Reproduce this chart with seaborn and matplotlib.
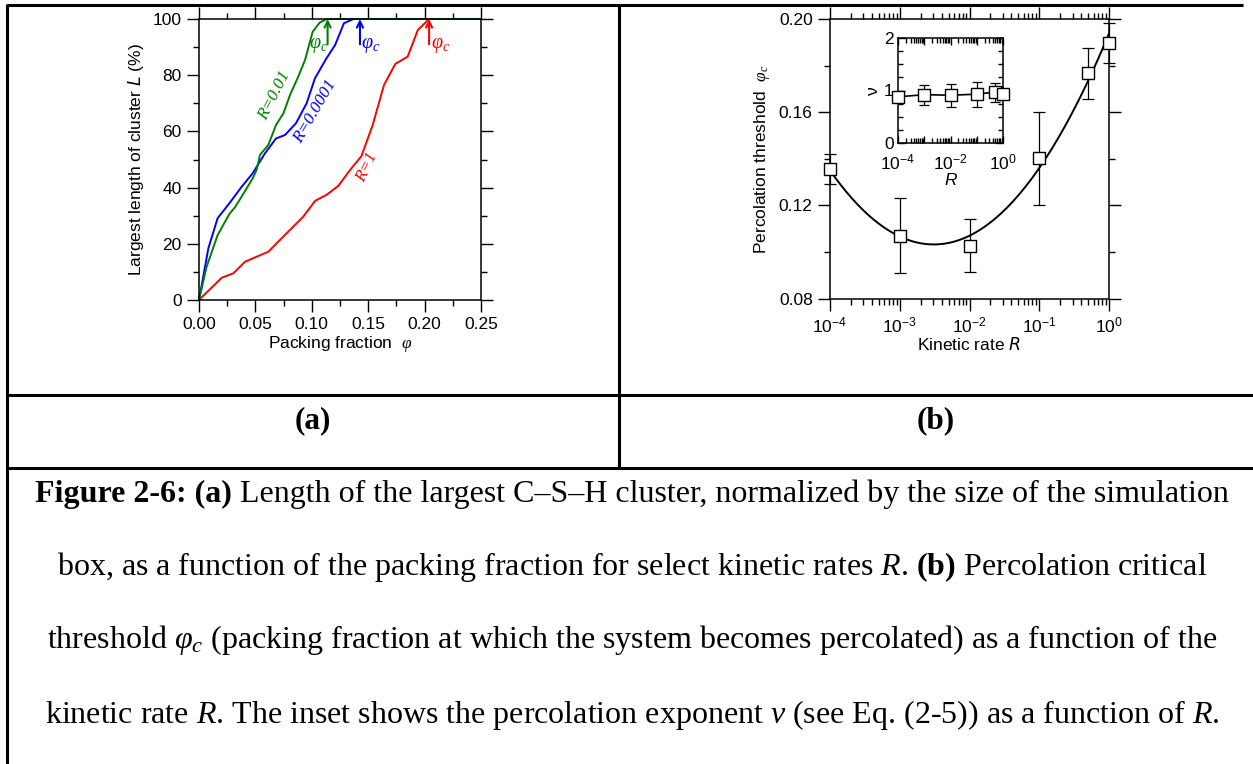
import numpy as np
import pandas as pd
import matplotlib
matplotlib.use("Agg")
import matplotlib.pyplot as plt
import seaborn as sns
from matplotlib.lines import Line2D
from matplotlib.ticker import MultipleLocator, FixedLocator, FormatStrFormatter, LogLocator, NullFormatter

# ---- data ----
# (a) largest cluster length vs packing fraction
phi_r0001 = [0, 0.0083, 0.0165, 0.0269, 0.0378, 0.0476, 0.0585, 0.0683, 0.0762, 0.086,
             0.0954, 0.1028, 0.113, 0.1206, 0.1285, 0.137, 0.25]
L_r0001 = [0, 18.4, 29.1, 34.4, 40.3, 45.1, 52.2, 57.5, 58.7, 62.9,
           70.0, 78.9, 86.0, 90.7, 98.5, 100, 100]
phi_r001 = [0, 0.0068, 0.0165, 0.0269, 0.0319, 0.0378, 0.0476, 0.0511, 0.054, 0.0615,
            0.0683, 0.0748, 0.0807, 0.088, 0.094, 0.1008, 0.107, 0.113, 0.25]
L_r001 = [0, 11.9, 23.1, 30.6, 33.0, 36.8, 43.3, 46.3, 51.6, 55.2,
          62.3, 66.4, 73.0, 79.5, 85.4, 95.5, 98.7, 100, 100]
phi_r1 = [0, 0.0201, 0.0304, 0.0408, 0.0615, 0.0718, 0.0925, 0.103, 0.113, 0.1235,
          0.134, 0.144, 0.154, 0.164, 0.174, 0.185, 0.194, 0.204, 0.25]
L_r1 = [0, 7.9, 9.5, 13.6, 17.2, 21.4, 29.7, 35.3, 37.4, 40.6,
        46.3, 51.2, 62.3, 76.5, 84.0, 86.6, 96.1, 100, 100]
phi_c_marks = {"R=0.01": 0.114, "R=0.0001": 0.1427, "R=1": 0.204}

# (b) percolation threshold vs kinetic rate
R_vals = [1e-4, 1e-3, 1e-2, 1e-1, 0.5, 1.0]
phi_c = [0.1356, 0.107, 0.1026, 0.1402, 0.1767, 0.1896]
phi_c_err = [0.0065, 0.016, 0.0114, 0.02, 0.011, 0.0085]
# inset: percolation exponent nu
nu = [0.88, 0.92, 0.91, 0.93, 0.97, 0.94]
nu_err = [0.12, 0.19, 0.22, 0.24, 0.18, 0.12]

GREEN, BLUE, RED = "#008000", "#0000ff", "#ff0000"

sns.set_style("ticks")
plt.rcParams["font.family"] = ["Liberation Sans", "DejaVu Sans"]
plt.rcParams["mathtext.fontset"] = "custom"
plt.rcParams["mathtext.rm"] = "Liberation Serif"
plt.rcParams["mathtext.it"] = "Liberation Serif:italic"
plt.rcParams["mathtext.bf"] = "Liberation Serif:bold"
plt.rcParams["axes.linewidth"] = 1.1
plt.rcParams["axes.edgecolor"] = "black"
for k in ["text.color", "axes.labelcolor", "xtick.color", "ytick.color"]:
    plt.rcParams[k] = "black"

W, H = 1253, 764
fig = plt.figure(figsize=(W / 100, H / 100), dpi=100)
fig.patch.set_facecolor("white")

TICK_FS = 12.5
LAB_FS = 12.5


def px_rect(l, t, r, b):
    return [l / W, 1 - b / H, (r - l) / W, (b - t) / H]


def style_ticks(ax, direction, maj, mino, size):
    ax.tick_params(which="both", direction=direction, top=True, right=True,
                   width=1.0, colors="black", labelsize=size, pad=4)
    ax.tick_params(which="major", length=maj)
    ax.tick_params(which="minor", length=mino)


# ---------------- panel (a) ----------------
ax_a = fig.add_axes(px_rect(199, 19, 481, 300))
for phi, L, col in [(phi_r1, L_r1, RED), (phi_r0001, L_r0001, BLUE), (phi_r001, L_r001, GREEN)]:
    sns.lineplot(x=phi, y=L, color=col, lw=1.4, estimator=None, sort=False,
                 ax=ax_a, clip_on=False)
ax_a.set_xlim(0, 0.25)
ax_a.set_ylim(0, 100)
ax_a.xaxis.set_major_locator(MultipleLocator(0.05))
ax_a.xaxis.set_minor_locator(MultipleLocator(0.025))
ax_a.xaxis.set_major_formatter(FormatStrFormatter("%.2f"))
ax_a.yaxis.set_major_locator(MultipleLocator(20))
ax_a.yaxis.set_minor_locator(MultipleLocator(10))
style_ticks(ax_a, "out", 8.5, 4.3, TICK_FS)
ax_a.set_xlabel(r"Packing fraction  $\varphi$", fontsize=LAB_FS, labelpad=1)
ax_a.set_ylabel(r"Largest length of cluster $L$ (%)", fontsize=LAB_FS, labelpad=5,
                math_fontfamily="dejavusans")

for (name, xc), col, dx in zip(phi_c_marks.items(), [GREEN, BLUE, RED], [-0.0082, 0.0095, 0.0102]):
    ax_a.annotate("", xy=(xc, 100), xytext=(xc, 91),
                  arrowprops=dict(arrowstyle="->,head_length=0.45,head_width=0.22",
                                  color=col, lw=1.5, shrinkA=0, shrinkB=0))
    ax_a.text(xc + dx, 90.6, r"$\varphi_c$", color=col, fontsize=14.5, ha="center", va="center")

for txt, x, y, rot, col in [("R=0.01", 0.0674, 72.9, 63, GREEN),
                            ("R=0.0001", 0.1034, 67.0, 60, BLUE),
                            ("R=1", 0.1486, 47.4, 65, RED)]:
    ax_a.text(x, y, txt, color=col, rotation=rot, rotation_mode="anchor",
              ha="center", va="center", fontsize=12.5, family="Liberation Serif", style="italic")

# ---------------- panel (b) ----------------
ax_b = fig.add_axes(px_rect(830, 19, 1109, 298.5))
ax_b.set_xscale("log")
coef = np.polyfit(np.log10(R_vals), phi_c, 2)
R_fit = np.logspace(-4, 0, 200)
fit_df = pd.DataFrame({"R": R_fit, "phi": np.polyval(coef, np.log10(R_fit))})
sns.lineplot(data=fit_df, x="R", y="phi", color="black", lw=1.4, ax=ax_b)
eb = ax_b.errorbar(R_vals, phi_c, yerr=phi_c_err, fmt="none", ecolor="black",
                   elinewidth=0.9, capsize=4.6, capthick=0.9, zorder=3)
for art in list(eb.lines[1]) + list(eb.lines[2]):
    art.set_clip_on(False)
sns.scatterplot(x=R_vals, y=phi_c, marker="s", s=70, color="white", edgecolor="black",
                linewidth=1.0, zorder=5, clip_on=False, legend=False, ax=ax_b)
ax_b.set_xlim(1e-4, 1)
ax_b.set_ylim(0.08, 0.20)
ax_b.xaxis.set_major_locator(FixedLocator([1e-4, 1e-3, 1e-2, 1e-1, 1]))
ax_b.set_xticklabels([r"$\mathdefault{10^{-4}}$", r"$\mathdefault{10^{-3}}$",
                      r"$\mathdefault{10^{-2}}$", r"$\mathdefault{10^{-1}}$",
                      r"$\mathdefault{10^{0}}$"])
ax_b.xaxis.set_minor_locator(LogLocator(base=10, subs=np.arange(2, 10), numticks=20))
ax_b.xaxis.set_minor_formatter(NullFormatter())
ax_b.yaxis.set_major_locator(MultipleLocator(0.04))
ax_b.yaxis.set_minor_locator(MultipleLocator(0.02))
ax_b.yaxis.set_major_formatter(FormatStrFormatter("%.2f"))
style_ticks(ax_b, "out", 8.5, 4.3, TICK_FS)
ax_b.set_xlabel(r"Kinetic rate $R$", fontsize=LAB_FS, labelpad=0, math_fontfamily="dejavusans")
ax_b.set_ylabel(r"Percolation threshold  $\varphi_c$", fontsize=LAB_FS, labelpad=5)

# inset
ax_in = fig.add_axes(px_rect(898, 38, 1003, 143))
ax_in.set_xscale("log")
sns.lineplot(x=R_vals, y=nu, color="black", lw=1.2, estimator=None, ax=ax_in)
eb2 = ax_in.errorbar(R_vals, nu, yerr=nu_err, fmt="none", ecolor="black",
                     elinewidth=0.9, capsize=3.8, capthick=0.9, zorder=3)
sns.scatterplot(x=R_vals, y=nu, marker="s", s=64, color="white", edgecolor="black",
                linewidth=1.0, zorder=5, clip_on=False, legend=False, ax=ax_in)
ax_in.set_xlim(1e-4, 1)
ax_in.set_ylim(0, 2)
ax_in.xaxis.set_major_locator(FixedLocator([1e-4, 1e-3, 1e-2, 1e-1, 1]))
ax_in.set_xticklabels([r"$\mathdefault{10^{-4}}$", "", r"$\mathdefault{10^{-2}}$", "",
                       r"$\mathdefault{10^{0}}$"])
ax_in.xaxis.set_minor_locator(LogLocator(base=10, subs=np.arange(2, 10), numticks=20))
ax_in.xaxis.set_minor_formatter(NullFormatter())
ax_in.yaxis.set_major_locator(MultipleLocator(1))
ax_in.yaxis.set_minor_locator(MultipleLocator(0.25))
style_ticks(ax_in, "in", 5, 3.5, TICK_FS)
ax_in.tick_params(axis="y", pad=3)
ax_in.tick_params(axis="x", pad=7)
ax_in.set_ylabel("ν", fontsize=LAB_FS, labelpad=2)
ax_in.set_xlabel("R", fontsize=LAB_FS, style="italic", labelpad=0)

# ---------------- table borders ----------------
def line_px(xs, ys, lw=2.2):
    fig.add_artist(Line2D([x / W for x in xs], [1 - y / H for y in ys],
                          transform=fig.transFigure, color="black", lw=lw,
                          solid_capstyle="butt"))


line_px([7, 1243], [5, 5])
line_px([7, 7], [4, 764])
line_px([619, 619], [5, 468])
line_px([7, 1253], [395, 395])
line_px([7, 1253], [468, 468])

# ---------------- captions ----------------
serif = "Liberation Serif"
cap_size = 23
fig.text(313 / W, 1 - 421 / H, "(a)", family=serif, weight="bold", fontsize=22.5,
         ha="center", va="center")
fig.text(936 / W, 1 - 421 / H, "(b)", family=serif, weight="bold", fontsize=22.5,
         ha="center", va="center")

cx = 632
t_bold = fig.text(0, 1 - 502 / H, "Figure 2-6: (a)", family=serif, weight="bold",
                  fontsize=cap_size, ha="left", va="baseline")
t_rest = fig.text(0, 1 - 502 / H,
                  "Length of the largest C\u2013S\u2013H cluster, normalized by the size of the simulation",
                  family=serif, fontsize=cap_size, ha="left", va="baseline")
renderer = fig.canvas.get_renderer()
tmp1 = fig.text(0, 0, "a a", family=serif, fontsize=cap_size)
tmp2 = fig.text(0, 0, "aa", family=serif, fontsize=cap_size)
sp = tmp1.get_window_extent(renderer).width - tmp2.get_window_extent(renderer).width
tmp1.remove()
tmp2.remove()
w1 = t_bold.get_window_extent(renderer).width
w2 = t_rest.get_window_extent(renderer).width
x0 = cx - (w1 + sp + w2) / 2
t_bold.set_x(x0 / W)
t_rest.set_x((x0 + w1 + sp) / W)

cap_lines = [
    (575, r"box, as a function of the packing fraction for select kinetic rates $\mathit{R}$. "
          r"$\mathbf{(b)}$ Percolation critical"),
    (648, r"threshold $\varphi_c$ (packing fraction at which the system becomes percolated) "
          r"as a function of the"),
    (723, r"kinetic rate $\mathit{R}$. The inset shows the percolation exponent $\nu$ "
          r"(see Eq. (2-5)) as a function of $\mathit{R}$."),
]
for y, s in cap_lines:
    fig.text(cx / W, 1 - y / H, s, family=serif, fontsize=cap_size, ha="center", va="baseline")

fig.savefig("out.png", dpi=100, facecolor="white")
